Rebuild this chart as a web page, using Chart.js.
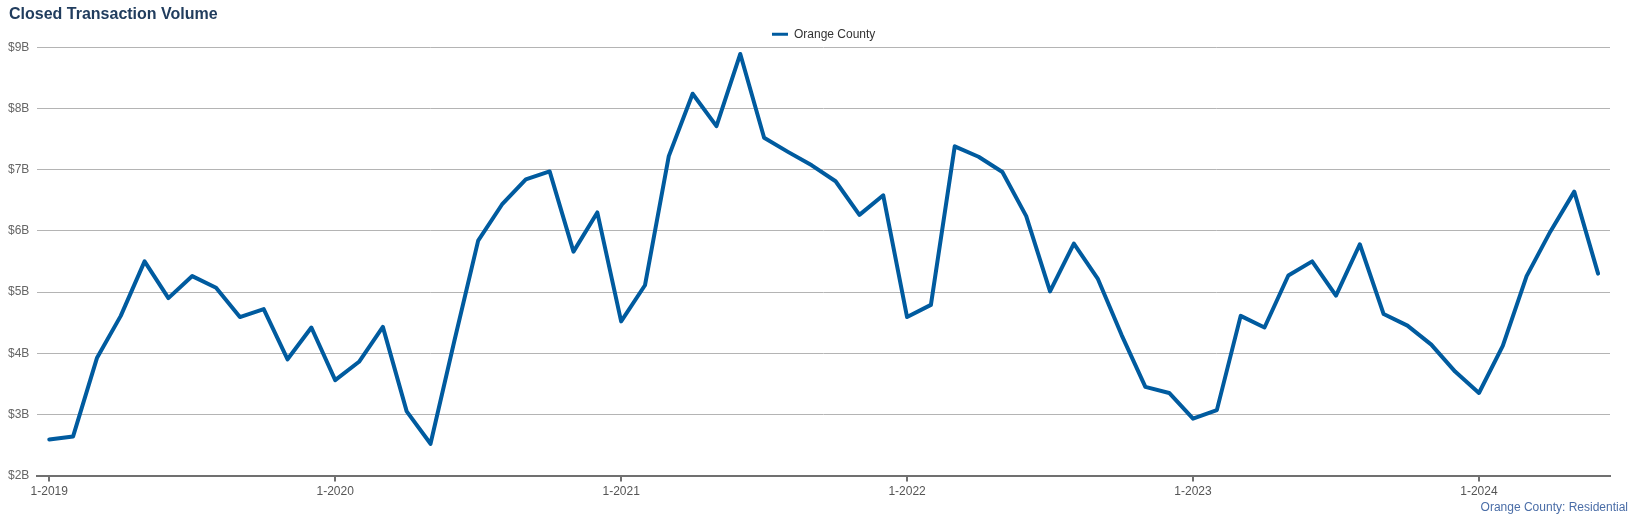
<!DOCTYPE html>
<html>
<head>
<meta charset="utf-8">
<title>Closed Transaction Volume</title>
<script src="https://cdn.jsdelivr.net/npm/chart.js@4"></script>
<style>
    html, body { margin: 0; padding: 0; background: #fff; }
    #wrap { position: relative; width: 1630px; height: 518px; }
    #source {
        position: absolute; right: 2px; top: 500px;
        font: 12px "Liberation Sans", Arial, sans-serif; color: #4a6da7;
    }
</style>
</head>
<body>
<div id="wrap">
    <canvas id="chart"></canvas>
    <div id="source">Orange County: Residential</div>
</div>
<script>
// months shown on the x axis (month-year)
const months = [
    '1-2019','2-2019','3-2019','4-2019','5-2019','6-2019','7-2019','8-2019','9-2019','10-2019','11-2019','12-2019',
    '1-2020','2-2020','3-2020','4-2020','5-2020','6-2020','7-2020','8-2020','9-2020','10-2020','11-2020','12-2020',
    '1-2021','2-2021','3-2021','4-2021','5-2021','6-2021','7-2021','8-2021','9-2021','10-2021','11-2021','12-2021',
    '1-2022','2-2022','3-2022','4-2022','5-2022','6-2022','7-2022','8-2022','9-2022','10-2022','11-2022','12-2022',
    '1-2023','2-2023','3-2023','4-2023','5-2023','6-2023','7-2023','8-2023','9-2023','10-2023','11-2023','12-2023',
    '1-2024','2-2024','3-2024','4-2024','5-2024','6-2024'
];

// closed volume, billions of dollars
const orangeCounty = [
    2.59, 2.64, 3.92, 4.61, 5.50, 4.90, 5.26, 5.07, 4.59, 4.72, 3.90, 4.42,
    3.56, 3.86, 4.43, 3.05, 2.52, 4.20, 5.84, 6.43, 6.84, 6.97, 5.66, 6.30,
    4.52, 5.11, 7.22, 8.24, 7.71, 8.89, 7.52, 7.29, 7.07, 6.81, 6.26, 6.58,
    4.59, 4.79, 7.38, 7.21, 6.96, 6.24, 5.01, 5.79, 5.22, 4.30, 3.45, 3.35,
    2.93, 3.07, 4.61, 4.42, 5.27, 5.50, 4.94, 5.78, 4.64, 4.45, 4.14, 3.70,
    3.35, 4.12, 5.26, 5.99, 6.64, 5.30
];

const yTicks = [2, 3, 4, 5, 6, 7, 8, 9];

const FONT = '"Liberation Sans", Arial, sans-serif';
const LINE_COLOR = '#005b9f';

// legend centred over the plot area, title nudged in from the edge
const blockNudge = {
    id: 'blockNudge',
    afterLayout(chart) {
        const lg = chart.legend;
        if (lg) {
            lg.left = chart.chartArea.left;
            lg.right = chart.chartArea.right;
            lg.width = lg.right - lg.left;
        }
        const tb = chart.titleBlock;
        if (tb) {
            tb.left += 9;
            tb.right += 9;
        }
    }
};

const ctx = document.getElementById('chart');
new Chart(ctx, {
    type: 'line',
    data: {
        labels: months,
        datasets: [{
            label: 'Orange County',
            data: orangeCounty,
            borderColor: LINE_COLOR,
            backgroundColor: LINE_COLOR,
            borderWidth: 4,
            borderJoinStyle: 'round',
            borderCapStyle: 'round',
            pointRadius: 0,
            pointHoverRadius: 0,
            tension: 0,
            fill: false
        }]
    },
    options: {
        responsive: true,
        maintainAspectRatio: false,
        animation: false,
        layout: { padding: { left: 0, right: 20, top: 0, bottom: 16 } },
        plugins: {
            title: {
                display: true,
                text: 'Closed Transaction Volume',
                align: 'start',
                color: '#213d5e',
                font: { family: FONT, size: 16, weight: 'bold' },
                padding: { top: 5, bottom: 0 }
            },
            legend: {
                display: true,
                position: 'top',
                maxHeight: 23,
                labels: {
                    color: '#333',
                    font: { family: FONT, size: 12 },
                    boxWidth: 16,
                    boxHeight: 3,
                    padding: 4,
                    generateLabels(chart) {
                        const items = Chart.defaults.plugins.legend.labels.generateLabels(chart);
                        items.forEach(it => { it.lineWidth = 0; it.fillStyle = LINE_COLOR; });
                        return items;
                    }
                }
            },
            tooltip: { enabled: false }
        },
        scales: {
            x: {
                type: 'category',
                offset: true,
                grid: {
                    display: true,
                    drawOnChartArea: false,
                    drawTicks: true,
                    tickLength: 6,
                    lineWidth: 2,
                    tickColor: c => (c.index % 12 === 0 ? '#707070' : 'rgba(0,0,0,0)')
                },
                border: { display: true, color: '#707070', width: 2 },
                ticks: {
                    autoSkip: false,
                    maxRotation: 0,
                    padding: 3,
                    color: '#555',
                    font: { family: FONT, size: 12 },
                    callback(v, i) { return i % 12 === 0 ? months[i] : ''; }
                }
            },
            y: {
                min: yTicks[0],
                max: yTicks[yTicks.length - 1],
                afterBuildTicks(scale) { scale.ticks = yTicks.map(v => ({ value: v })); },
                grid: { color: '#b4b4b4', lineWidth: 1, drawTicks: false },
                border: { display: false },
                ticks: {
                    padding: 8,
                    color: '#666',
                    font: { family: FONT, size: 12 },
                    callback: v => '$' + v + 'B'
                }
            }
        }
    },
    plugins: [blockNudge]
});
</script>
</body>
</html>
